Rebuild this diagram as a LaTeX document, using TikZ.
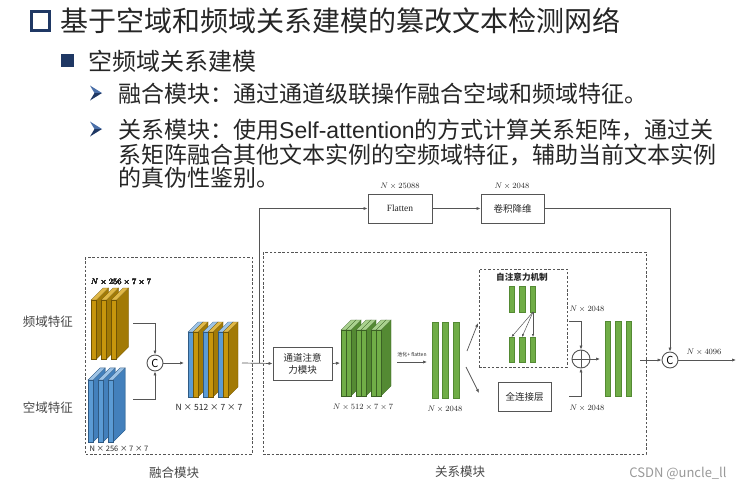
\documentclass[tikz,border=0pt]{standalone}
\usepackage{fontspec}
\setmainfont{Noto Sans CJK SC}
\newfontfamily\serifen{Liberation Serif}
\newfontfamily\latinsans{Liberation Sans}
\usetikzlibrary{arrows.meta,calc}
\definecolor{navy}{HTML}{1F3864}
\definecolor{navyL}{HTML}{4A6FA8}
\definecolor{txt}{HTML}{262626}
\definecolor{ln}{HTML}{555555}
\definecolor{goldF}{HTML}{C8960C}
\definecolor{goldS}{HTML}{A27A06}
\definecolor{goldT}{HTML}{E0B848}
\definecolor{blueF}{HTML}{5B9BD5}
\definecolor{blueS}{HTML}{4380BC}
\definecolor{blueT}{HTML}{9DC3E6}
\definecolor{greenF}{HTML}{70AD47}
\definecolor{greenS}{HTML}{548A33}
\definecolor{greenT}{HTML}{A9D18E}
% #1 x, #2 y bottom, #3 front height, #4 front width, #5 depth, #6 front, #7 side, #8 top
\newcommand{\fmslab}[8]{%
  \filldraw[fill=#7, draw=#7!70!black, line width=0.3pt] ({#1+#4},{#2}) -- ++(#5,-#5) -- ++(0,-#3) -- ++(-#5,#5) -- cycle;
  \filldraw[fill=#8, draw=#7!70!black, line width=0.3pt] ({#1},{#2-#3}) -- ++(#4,0) -- ++(#5,-#5) -- ++(-#4,0) -- cycle;
  \filldraw[fill=#6, draw=#7!70!black, line width=0.3pt] ({#1},{#2-#3}) rectangle ({#1+#4},{#2});
}
\tikzset{
  box/.style={draw=ln, line width=0.9pt, fill=white, inner sep=0, align=center, text=txt, font=\fontsize{9.5}{12}\selectfont},
  dbox/.style={draw=ln, line width=0.9pt, dash pattern=on 2.5pt off 1.8pt},
  conn/.style={draw=ln, line width=0.7pt},
  arr/.style={conn, -{Latex[length=4pt,width=3.2pt]}},
  sarr/.style={draw=ln, line width=0.5pt, -{Latex[length=3pt,width=2.4pt]}},
  circ/.style={circle, draw=ln, line width=0.9pt, inner sep=0, fill=white},
  dim/.style={font=\fontsize{8.5}{9}\selectfont, text=txt, inner sep=0},
  lab/.style={font=\fontsize{12.5}{14}\selectfont, text=txt!85, inner sep=0},
  bar/.style={fill=greenF, draw=greenS, line width=0.3pt},
  hd/.style={anchor=west, inner sep=0, text=txt},
}
\begin{document}
\begin{tikzpicture}[x=1pt, y=-1pt]
\useasboundingbox (0,0) rectangle (742,490);
\fill[white] (0,0) rectangle (742,490);

% ---------- header text ----------
\draw[navy, line width=2.2pt] (31.5,11.5) rectangle (49.5,30.5);
\node[hd, font=\fontsize{28}{30}\selectfont] (t1) at (60,21) {基于空域和频域关系建模的篡改文本检测网络};
\fill[navy] (61,54) rectangle (74,67);
\node[hd, font=\fontsize{24}{26}\selectfont] (t2) at (88,61) {空频域关系建模};
\foreach \yy in {93,129}{
  \fill[navyL] (90,{\yy-7.5}) -- (102,\yy) -- (94.5,\yy) -- cycle;
  \fill[navy] (94.5,\yy) -- (102,\yy) -- (90,{\yy+7.5}) -- cycle;
}
\node[hd, font=\fontsize{23}{25}\selectfont] (t3) at (118,94) {融合模块：通过通道级联操作融合空域和频域特征。};
\node[hd, font=\fontsize{23}{25}\selectfont] (t4) at (118,130) {关系模块：使用{\latinsans Self-attention}的方式计算关系矩阵，通过关};
\node[hd, font=\fontsize{23}{25}\selectfont] (t5) at (118,155) {系矩阵融合其他文本实例的空频域特征，辅助当前文本实例};
\node[hd, font=\fontsize{23}{25}\selectfont] (t6) at (118,178) {的真伪性鉴别。};

% ---------- dashed module frames ----------
\draw[dbox] (85,257) rectangle (252,454);
\draw[dbox] (263,252) rectangle (646,454);
\node[dbox, minimum width=88pt, minimum height=98pt, inner sep=0] (att) at (523,318) {};

% ---------- fusion module ----------
\node[lab] (lf) at (48,322) {频域特征};
\node[lab] (ls) at (48,408) {空域特征};
\foreach \i in {0,1,2} \fmslab{91+10*\i}{359}{59}{5.5}{12}{goldF}{goldS}{goldT}
\foreach \i in {0,1,2} \fmslab{88+10*\i}{442}{62}{5}{12}{blueF}{blueS}{blueT}
\node[dim] (dg) at (121,282) {$N\times 256\times 7\times 7$};
\node[dim, font=\fontsize{7.5}{9}\selectfont] (db) at (119,449) {N × 256 × 7 × 7};
\coordinate (goldout) at (133,323);
\coordinate (blueout) at (133,399);
\node[circ, minimum size=16pt, font=\fontsize{11}{11}\selectfont] (c1) at (155,363) {C};
\draw[arr] (goldout) -| (c1.north);
\draw[arr] (blueout) -| (c1.south);
\foreach \o/\fc/\sc/\tc in {0/blueF/blueS/blueT,5/goldF/goldS/goldT,15/blueF/blueS/blueT,20/goldF/goldS/goldT,30/blueF/blueS/blueT,35/goldF/goldS/goldT}
  \fmslab{188+\o}{397}{65}{5}{10}{\fc}{\sc}{\tc}
\coordinate (mergein) at (184,363);
\draw[arr] (c1.east) -- (mergein);
\node[dim] (dm) at (209,407) {N × 512 × 7 × 7};
\node[lab] (lfu) at (174,473) {融合模块};

% ---------- upper branch ----------
\node[box, minimum width=64pt, minimum height=29pt, font=\fontsize{9.5}{11}\serifen] (flat) at (400,208.5) {Flatten};
\node[box, minimum width=63pt, minimum height=29pt] (conv) at (512.5,208.5) {卷积降维};
\node[dim] (dfl) at (400,186) {$N\times 25088$};
\node[dim] (dcv) at (512,186) {$N\times 2048$};
\draw[arr] (flat.east) -- (conv.west);

% ---------- relation module ----------
\node[box, minimum width=59pt, minimum height=33pt] (cam) at (302.5,363.5) {通道注意\\力模块};
\coordinate (mergeout) at (242,363);
\coordinate (split) at (259,363);
\draw[arr] (mergeout) -- (cam.west);
\draw[arr] (split) |- (flat.west);
\foreach \o in {0,5,15,20,30,35} \fmslab{341+\o}{396}{66}{5}{10}{greenF}{greenS}{greenT}
\coordinate (greenin) at (340,363);
\draw[arr] (cam.east) -- (greenin);
\node[dim] (dgr) at (363,407) {$N\times 512\times 7\times 7$};
\coordinate (poolA) at (397,362);
\coordinate (poolB) at (427,362);
\draw[arr] (poolA) -- (poolB);
\node[inner sep=0, text=txt, font=\fontsize{5}{6}\selectfont] (pl) at (412,355) {池化+ flatten};
\foreach \x in {432,442.5,453} \filldraw[bar] (\x,322) rectangle ({\x+6},398);
\node[dim] (d2048a) at (445,409) {$N\times 2048$};
\coordinate (bu0) at (467,351);
\coordinate (bu1) at (478,323);
\draw[arr] (bu0) -- (bu1);
\coordinate (bd0) at (466,367);
\coordinate (bd1) at (479,393);
\draw[arr] (bd0) -- (bd1);

% attention block
\node[inner sep=0, text=txt, font=\fontsize{8.6}{10}\selectfont\bfseries] (attt) at (522,277) {自注意力机制};
\foreach \x in {509,519.5,530} \filldraw[bar] (\x,286) rectangle ({\x+5.5},312);
\foreach \x in {509,519.5,530} \filldraw[bar] (\x,337) rectangle ({\x+5.5},362);
\coordinate (af) at (533,312);
\foreach \x/\n in {511.5/1,522/2,533/3} {\coordinate (at\n) at (\x,337); \draw[sarr] (af) -- (at\n);}

\node[box, minimum width=53pt, minimum height=29pt] (fc) at (524.5,396.5) {全连接层};

% plus
\node[circ, minimum size=18pt] (plus) at (581,359) {};
\draw[ln, line width=0.8pt] (plus.north) -- (plus.south) (plus.west) -- (plus.east);
\coordinate (attout) at (569,321);
\coordinate (fcout) at (569,396);
\draw[arr] (attout) -| (plus.north);
\draw[arr] (fcout) -| (plus.south);
\node[dim] (d2048b) at (587,309) {$N\times 2048$};
\node[dim] (d2048c) at (587,408) {$N\times 2048$};
\coordinate (finin) at (600,359);
\draw[arr] (plus.east) -- (finin);
\foreach \x in {605,615.5,626} \filldraw[bar] (\x,321) rectangle ({\x+5.5},396);

% final concat
\node[circ, minimum size=16pt, font=\fontsize{11}{11}\selectfont] (c2) at (670,360) {C};
\coordinate (finout) at (640,360);
\draw[arr] (finout) -- (c2.west);
\draw[arr] (conv.east) -| (c2.north);
\coordinate (outend) at (736,360);
\draw[arr] (c2.east) -- (outend);
\node[dim] (d4096) at (704,352) {$N\times 4096$};

\node[lab] (lre) at (460,472) {关系模块};
\node[inner sep=0, text=black!40, font=\fontsize{13}{14}\selectfont] (wm) at (678,473) {CSDN @uncle\_ll};
\end{tikzpicture}
\end{document}
